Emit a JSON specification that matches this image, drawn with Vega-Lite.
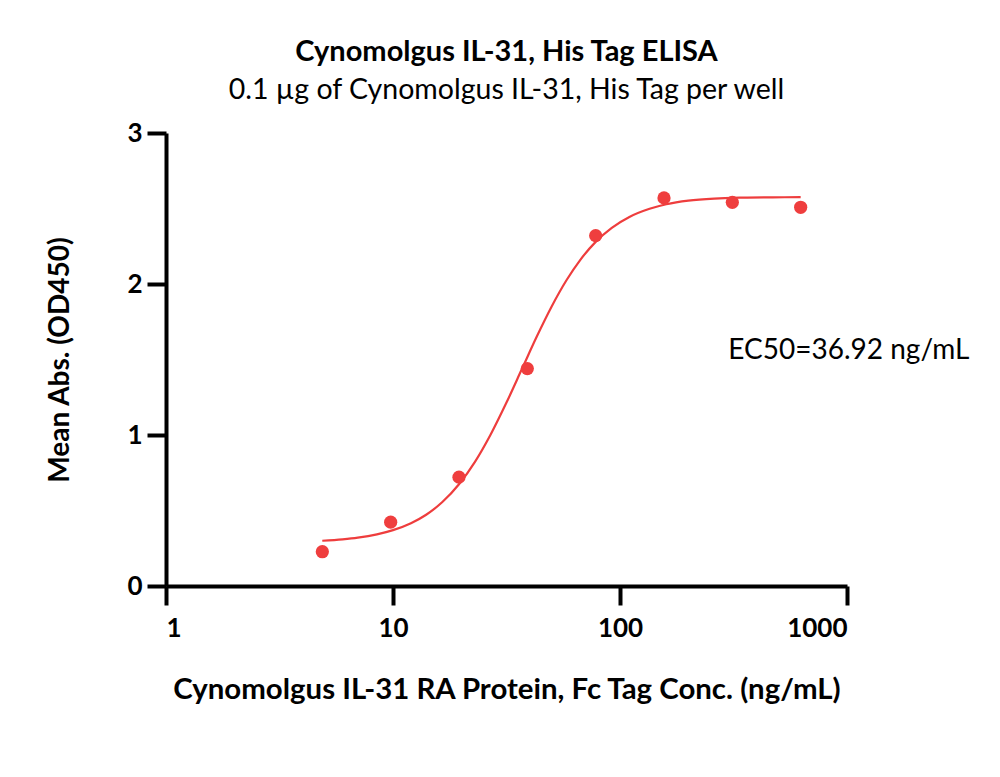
{
  "$schema": "https://vega.github.io/schema/vega-lite/v6.json",
  "width": 681,
  "height": 453,
  "autosize": "none",
  "padding": {"left": 166, "top": 133, "right": 153, "bottom": 191},
  "background": "white",
  "config": {
    "view": {"stroke": null},
    "font": "Lato",
    "axis": {
      "grid": false,
      "domainColor": "black",
      "domainWidth": 4,
      "tickColor": "black",
      "tickWidth": 4,
      "labelColor": "black",
      "labelFont": "Lato",
      "labelFontSize": 26,
      "labelFontWeight": "bold",
      "titleColor": "black",
      "titleFont": "Lato",
      "titleFontSize": 28,
      "titleFontWeight": "bold"
    }
  },
  "title": {
    "text": "Cynomolgus IL-31, His Tag ELISA",
    "subtitle": "0.1 µg of Cynomolgus IL-31, His Tag per well",
    "anchor": "middle",
    "font": "Lato",
    "fontSize": 29,
    "fontWeight": "bold",
    "color": "black",
    "subtitleFont": "Lato",
    "subtitleFontSize": 28.5,
    "subtitleColor": "black",
    "subtitlePadding": 9,
    "offset": 16
  },
  "datasets": {
    "points": [
      {"conc": 4.883, "od": 0.227},
      {"conc": 9.766, "od": 0.423},
      {"conc": 19.53, "od": 0.721},
      {"conc": 39.06, "od": 1.44},
      {"conc": 78.13, "od": 2.32},
      {"conc": 156.25, "od": 2.57},
      {"conc": 312.5, "od": 2.541},
      {"conc": 625, "od": 2.508}
    ],
    "fit": [
      {"conc": 4.88, "od": 0.2995},
      {"conc": 6, "od": 0.309},
      {"conc": 7, "od": 0.32},
      {"conc": 8.5, "od": 0.342},
      {"conc": 10, "od": 0.37},
      {"conc": 12, "od": 0.416},
      {"conc": 14, "od": 0.472},
      {"conc": 16.5, "od": 0.556},
      {"conc": 19.53, "od": 0.674},
      {"conc": 23, "od": 0.824},
      {"conc": 27, "od": 1.007},
      {"conc": 31.5, "od": 1.21},
      {"conc": 36.92, "od": 1.435},
      {"conc": 43, "od": 1.652},
      {"conc": 50, "od": 1.851},
      {"conc": 58, "od": 2.023},
      {"conc": 67, "od": 2.162},
      {"conc": 78.13, "od": 2.279},
      {"conc": 92, "od": 2.372},
      {"conc": 110, "od": 2.444},
      {"conc": 135, "od": 2.498},
      {"conc": 160, "od": 2.528},
      {"conc": 200, "od": 2.552},
      {"conc": 260, "od": 2.566},
      {"conc": 350, "od": 2.572},
      {"conc": 470, "od": 2.574},
      {"conc": 625, "od": 2.575}
    ],
    "note": [
      {"conc": 300, "od": 1.555, "label": "EC50=36.92 ng/mL"}
    ]
  },
  "encoding": {
    "x": {
      "field": "conc",
      "type": "quantitative",
      "scale": {"type": "log", "domain": [1, 1000], "nice": false},
      "axis": {
        "title": "Cynomolgus IL-31 RA Protein, Fc Tag Conc. (ng/mL)",
        "titleFontSize": 29.4,
        "values": [1, 10, 100, 1000],
        "format": "d",
        "tickSize": 19,
        "labelPadding": 10,
        "titlePadding": 34
      }
    },
    "y": {
      "field": "od",
      "type": "quantitative",
      "scale": {"domain": [0, 3], "nice": false},
      "axis": {
        "title": "Mean Abs. (OD450)",
        "values": [0, 1, 2, 3],
        "tickSize": 19,
        "labelPadding": 5,
        "titlePadding": 52
      }
    }
  },
  "layer": [
    {
      "data": {"name": "fit"},
      "mark": {"type": "line", "color": "#ee3d3d", "strokeWidth": 2.2, "interpolate": "monotone"}
    },
    {
      "data": {"name": "points"},
      "mark": {"type": "point", "filled": true, "color": "#ef3e3e", "size": 175, "opacity": 1, "shape": "circle"}
    },
    {
      "data": {"name": "note"},
      "mark": {"type": "text", "align": "left", "baseline": "middle", "fontSize": 28, "font": "Lato", "color": "black"},
      "encoding": {"text": {"field": "label"}}
    }
  ]
}
